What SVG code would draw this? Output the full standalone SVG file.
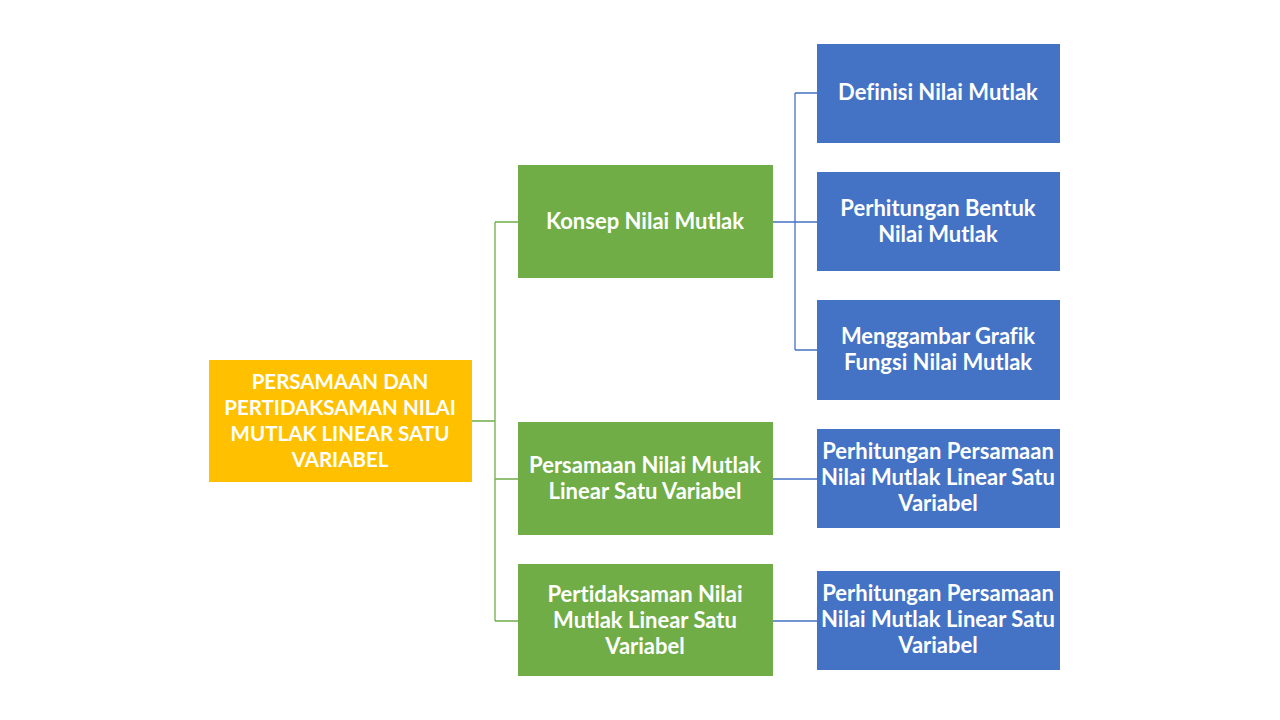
<svg xmlns="http://www.w3.org/2000/svg" width="1280" height="720" viewBox="0 0 1280 720">
<style>
.t{font-family:"Lato","Liberation Sans",sans-serif;font-weight:bold;font-size:22px;fill:#fff;text-anchor:middle;font-variant-ligatures:none;font-feature-settings:"liga" 0,"dlig" 0}
.r{font-size:20.5px}
.g{stroke:#70AD47;stroke-width:1.3;fill:none}
.b{stroke:#4472C4;stroke-width:1.3;fill:none}
</style>
<rect width="1280" height="720" fill="#fff"/>
<g id="connectors">
<path class="g" d="M472 421H495M495 222V621M495 222H518M495 479H518M495 621H518"/>
<path class="b" d="M773 222H795M795 93V350M795 93H817M795 222H817M795 350H817M773 479H817M773 621H817"/>
</g>
<g id="root"><rect x="209" y="360" width="263" height="122" fill="#FFC000"/>
<text class="t r" x="340" y="389">PERSAMAAN DAN</text><text class="t r" x="340" y="415">PERTIDAKSAMAN NILAI</text><text class="t r" x="340" y="441">MUTLAK LINEAR SATU</text><text class="t r" x="340" y="467">VARIABEL</text></g>
<g id="konsep"><rect x="518" y="165" width="255" height="113" fill="#70AD47"/>
<text class="t" x="645" y="229">Konsep Nilai Mutlak</text></g>
<g id="persamaan"><rect x="518" y="422" width="255" height="113" fill="#70AD47"/>
<text class="t" x="645" y="473">Persamaan Nilai Mutlak</text><text class="t" x="645" y="499">Linear Satu Variabel</text></g>
<g id="pertidaksamaan"><rect x="518" y="564" width="255" height="112" fill="#70AD47"/>
<text class="t" x="645" y="602">Pertidaksaman Nilai</text><text class="t" x="645" y="628">Mutlak Linear Satu</text><text class="t" x="645" y="654">Variabel</text></g>
<g id="definisi"><rect x="817" y="44" width="243" height="99" fill="#4472C4"/>
<text class="t" x="938" y="100">Definisi Nilai Mutlak</text></g>
<g id="bentuk"><rect x="817" y="172" width="243" height="99" fill="#4472C4"/>
<text class="t" x="938" y="216">Perhitungan Bentuk</text><text class="t" x="938" y="242">Nilai Mutlak</text></g>
<g id="grafik"><rect x="817" y="300" width="243" height="100" fill="#4472C4"/>
<text class="t" x="938" y="344">Menggambar Grafik</text><text class="t" x="938" y="370">Fungsi Nilai Mutlak</text></g>
<g id="pp1"><rect x="817" y="429" width="243" height="99" fill="#4472C4"/>
<text class="t" x="938" y="459">Perhitungan Persamaan</text><text class="t" x="938" y="485">Nilai Mutlak Linear Satu</text><text class="t" x="938" y="511">Variabel</text></g>
<g id="pp2"><rect x="817" y="571" width="243" height="99" fill="#4472C4"/>
<text class="t" x="938" y="601">Perhitungan Persamaan</text><text class="t" x="938" y="627">Nilai Mutlak Linear Satu</text><text class="t" x="938" y="653">Variabel</text></g>
</svg>
